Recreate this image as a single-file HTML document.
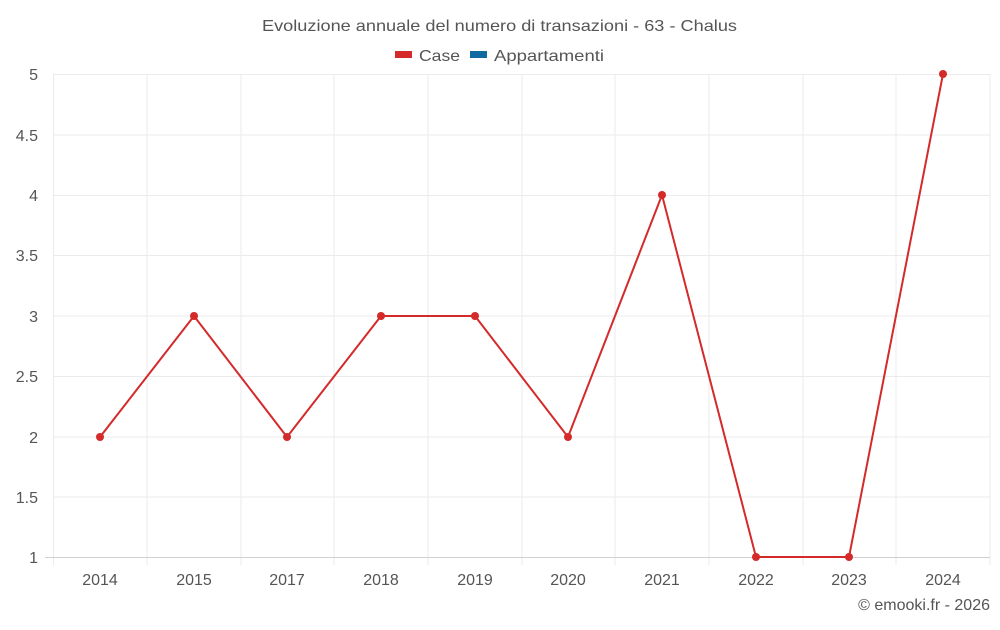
<!DOCTYPE html>
<html><head><meta charset="utf-8"><style>
body{margin:0;background:#fff;}
svg text{font-family:"Liberation Sans",sans-serif;fill:#555;}
</style></head><body>
<svg width="1000" height="625" xmlns="http://www.w3.org/2000/svg">
<text x="262" y="31" font-size="16" textLength="475" lengthAdjust="spacingAndGlyphs">Evoluzione annuale del numero di transazioni - 63 - Chalus</text>
<rect x="395" y="51" width="17" height="7" fill="#d42a2a"/>
<text x="419" y="61" font-size="16" textLength="41" lengthAdjust="spacingAndGlyphs">Case</text>
<rect x="470" y="51" width="17" height="7" fill="#0e6aa0"/>
<text x="494" y="61" font-size="16" textLength="110" lengthAdjust="spacingAndGlyphs">Appartamenti</text>
<g stroke="#ebebeb" stroke-width="1">
<line x1="53" y1="74.5" x2="990" y2="74.5"/>
<line x1="53" y1="135" x2="990" y2="135"/>
<line x1="53" y1="195.5" x2="990" y2="195.5"/>
<line x1="53" y1="255.5" x2="990" y2="255.5"/>
<line x1="53" y1="316" x2="990" y2="316"/>
<line x1="53" y1="376.5" x2="990" y2="376.5"/>
<line x1="53" y1="437" x2="990" y2="437"/>
<line x1="53" y1="497" x2="990" y2="497"/>
<line x1="53.5" y1="74" x2="53.5" y2="565"/>
<line x1="147" y1="74" x2="147" y2="565"/>
<line x1="241" y1="74" x2="241" y2="565"/>
<line x1="334" y1="74" x2="334" y2="565"/>
<line x1="428" y1="74" x2="428" y2="565"/>
<line x1="522" y1="74" x2="522" y2="565"/>
<line x1="615" y1="74" x2="615" y2="565"/>
<line x1="709" y1="74" x2="709" y2="565"/>
<line x1="803" y1="74" x2="803" y2="565"/>
<line x1="896" y1="74" x2="896" y2="565"/>
<line x1="990" y1="74" x2="990" y2="565"/>
</g>
<line x1="45" y1="557.5" x2="990" y2="557.5" stroke="#d0d0d0"/>
<g font-size="16" text-anchor="end">
<text x="38" y="80">5</text><text x="38" y="141">4.5</text><text x="38" y="201">4</text>
<text x="38" y="261">3.5</text><text x="38" y="322">3</text><text x="38" y="382">2.5</text>
<text x="38" y="443">2</text><text x="38" y="503">1.5</text><text x="38" y="563">1</text>
</g>
<g font-size="16" text-anchor="middle">
<text x="100" y="585">2014</text><text x="194" y="585">2015</text><text x="287" y="585">2017</text>
<text x="381" y="585">2018</text><text x="475" y="585">2019</text><text x="568" y="585">2020</text>
<text x="662" y="585">2021</text><text x="756" y="585">2022</text><text x="849" y="585">2023</text>
<text x="943" y="585">2024</text>
</g>
<polyline fill="none" stroke="#d42a2a" stroke-width="2" points="100,437 194,316 287,437 381,316 475,316 568,437 662,195 756,557 849,557 943,74"/>
<g fill="#d42a2a">
<circle cx="100" cy="437" r="4"/><circle cx="194" cy="316" r="4"/><circle cx="287" cy="437" r="4"/>
<circle cx="381" cy="316" r="4"/><circle cx="475" cy="316" r="4"/><circle cx="568" cy="437" r="4"/>
<circle cx="662" cy="195" r="4"/><circle cx="756" cy="557" r="4"/><circle cx="849" cy="557" r="4"/>
<circle cx="943" cy="74" r="4"/>
</g>
<text x="990" y="610" font-size="16" text-anchor="end">© emooki.fr - 2026</text>
</svg>
</body></html>
